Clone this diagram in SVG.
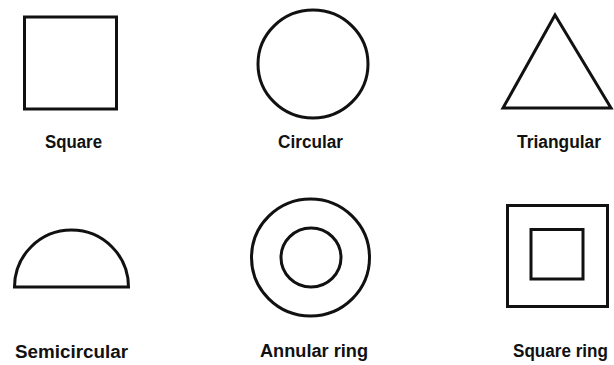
<svg xmlns="http://www.w3.org/2000/svg" width="614" height="365" viewBox="0 0 614 365">
<style>
.s{fill:none;stroke:#111;stroke-width:3;stroke-linejoin:miter}
.t{font-family:"Liberation Sans",Arial,sans-serif;font-weight:bold;font-size:18px;fill:#111;text-anchor:middle}
</style>
<rect width="614" height="365" fill="#fff"/>
<g id="square">
<rect class="s" x="24.5" y="17" width="92" height="92"/>
<text class="t" x="73.5" y="148" textLength="57" lengthAdjust="spacingAndGlyphs">Square</text>
</g>
<g id="circular">
<ellipse class="s" cx="313" cy="64" rx="55" ry="54"/>
<text class="t" x="310.5" y="148" textLength="65" lengthAdjust="spacingAndGlyphs">Circular</text>
</g>
<g id="triangular">
<polygon class="s" points="555,15 503,108 611,108"/>
<text class="t" x="559" y="148" textLength="84" lengthAdjust="spacingAndGlyphs">Triangular</text>
</g>
<g id="semicircular">
<path class="s" d="M14.5,287 A57,57 0 0 1 128.5,287 Z"/>
<text class="t" x="71.5" y="358" textLength="113" lengthAdjust="spacingAndGlyphs">Semicircular</text>
</g>
<g id="annular-ring">
<ellipse class="s" cx="310.5" cy="257.5" rx="59" ry="58.5"/>
<ellipse class="s" cx="311" cy="257.5" rx="30" ry="29.5"/>
<text class="t" x="314" y="357" textLength="108" lengthAdjust="spacingAndGlyphs">Annular ring</text>
</g>
<g id="square-ring">
<rect class="s" x="507.5" y="205.5" width="100" height="101"/>
<rect class="s" x="531" y="229.5" width="52" height="49.5"/>
<text class="t" x="560.5" y="357" textLength="95" lengthAdjust="spacingAndGlyphs">Square ring</text>
</g>
<g id="connectors"/>
</svg>
